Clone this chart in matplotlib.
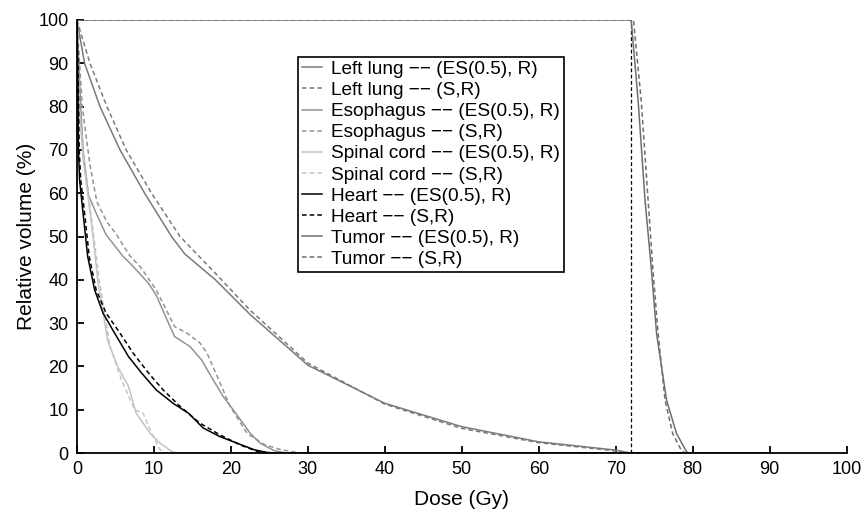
import matplotlib
matplotlib.use('Agg')
import matplotlib.pyplot as plt

plt.rcParams['font.family'] = ['Liberation Sans', 'DejaVu Sans']

# dose-volume histogram data (dose in Gy, relative volume in %)
lung_es_dose = [0, 1.0, 3.0, 5.6, 8.8, 12.3, 14, 18, 22.5, 30, 40, 50, 60, 70, 72, 90]
lung_es_vol = [100, 90, 80, 70, 60, 50, 46, 40, 32, 20.3, 11.5, 6.1, 2.6, 0.7, 0, 0]
lung_s_dose = [0, 1.7, 3.9, 6.4, 9.7, 13.4, 18, 22.5, 30, 40, 50, 60, 70, 72, 90]
lung_s_vol = [100, 90, 80, 70, 60, 50, 41.5, 33, 20.8, 11.3, 5.7, 2.4, 0.5, 0, 0]

eso_es_dose = [0, 0.5, 0.8, 1.5, 2.5, 3.8, 6.0, 7.1, 9.3, 10.3, 11.7, 12.7, 14.7, 16.2,
               17.7, 19.0, 20.8, 22.5, 23.8, 25.6, 27.2, 90]
eso_es_vol = [100, 80, 70, 59.6, 55.4, 50.4, 45.4, 43.5, 39.2, 36.5, 30.8, 26.9, 24.6, 21.5,
              16.9, 13.1, 8.8, 4.6, 2.3, 0.6, 0, 0]
eso_s_dose = [0, 0.7, 1.7, 2.6, 3.9, 5.2, 6.9, 8.2, 10.3, 12.7, 14.3, 16.0, 16.9, 18.6,
              19.9, 22.1, 24.3, 26.5, 29, 90]
eso_s_vol = [100, 80, 66.5, 58, 53.4, 50.3, 45.5, 43.1, 37.7, 29.2, 27.7, 25.4, 23.1, 16.2,
             10.8, 4.6, 2.0, 0.8, 0, 0]

cord_es_dose = [0, 0.3, 0.8, 1.4, 2.1, 2.7, 3.2, 4.0, 5.3, 6.7, 7.7, 9.5, 10.8, 12.3, 13, 90]
cord_es_vol = [100, 80, 68, 60, 50, 40, 34.6, 26, 20, 15.4, 9.2, 4.6, 2.3, 0.4, 0, 0]
cord_s_dose = [0, 0.3, 0.9, 1.5, 2.2, 2.9, 4.3, 5.8, 7.5, 8.6, 9.7, 10.8, 11.5, 90]
cord_s_vol = [100, 80, 68, 60, 50, 40, 24.6, 16.9, 10.0, 9.2, 4.6, 0.8, 0, 0]

heart_es_dose = [0, 0.1, 0.2, 0.35, 0.8, 1.4, 2.3, 3.4, 4.9, 6.7, 8.4, 10.3, 12.5, 14.5,
                 16.4, 18.6, 20.8, 23, 24.7, 26, 90]
heart_es_vol = [100, 90, 70, 63, 55.4, 45.4, 37.7, 32.3, 27.7, 22.3, 18.5, 14.6, 11.5, 9.2,
                5.8, 3.8, 2.3, 0.8, 0.15, 0, 0]
heart_s_dose = [0, 0.15, 0.3, 0.5, 1.0, 1.6, 2.5, 3.8, 5.6, 7.3, 9.3, 11.2, 13.4, 16.0,
                18.6, 21.2, 23.4, 25, 90]
heart_s_vol = [100, 90, 70, 63, 55.4, 45.4, 37.7, 32.3, 27.7, 23.1, 18.5, 14.6, 10.8, 6.9,
               4.2, 1.9, 0.4, 0, 0]

tumor_es_dose = [0, 72.0, 72.9, 73.8, 74.6, 75.3, 76.6, 77.9, 79.2, 79.5, 90]
tumor_es_vol = [100, 100, 81.5, 58.4, 43, 27.6, 12.2, 4.5, 0.3, 0, 0]
tumor_s_dose = [0, 72.3, 73.3, 74.2, 74.8, 75.5, 76.4, 77.4, 78.5, 79, 90]
tumor_s_vol = [100, 100, 81.5, 58.4, 43, 27.6, 12.2, 4.5, 0.7, 0, 0]

rx_dose = 72

organs = ['Left lung', 'Esophagus', 'Spinal cord', 'Heart', 'Tumor']
colors = ['#7a7a7a', '#939393', '#c4c4c4', '#000000', '#6e6e6e']
es_curves = [(lung_es_dose, lung_es_vol), (eso_es_dose, eso_es_vol),
             (cord_es_dose, cord_es_vol), (heart_es_dose, heart_es_vol),
             (tumor_es_dose, tumor_es_vol)]
s_curves = [(lung_s_dose, lung_s_vol), (eso_s_dose, eso_s_vol),
            (cord_s_dose, cord_s_vol), (heart_s_dose, heart_s_vol),
            (tumor_s_dose, tumor_s_vol)]

fig = plt.figure(figsize=(8.64, 5.12), dpi=100)
ax = fig.add_axes([0.089, 0.115, 0.891, 0.846])

# prescription line
ax.axvline(rx_dose, ymin=0, ymax=1, color='k', lw=0.9, dashes=(3, 2))

sep = ' \u2212\u2212 '
for name, c, es, s in zip(organs, colors, es_curves, s_curves):
    ax.plot(es[0], es[1], color=c, lw=1.1, label=name + sep + '(ES(0.5), R)')
    ax.plot(s[0], s[1], color=c, lw=1.1, dashes=(3, 2), label=name + sep + '(S,R)')

ax.set_xlim(0, 100)
ax.set_ylim(0, 100)
ax.set_xticks(range(0, 101, 10))
ax.set_yticks(range(0, 101, 10))
ax.spines['top'].set_visible(False)
ax.spines['right'].set_visible(False)
for sp in ['left', 'bottom']:
    ax.spines[sp].set_linewidth(1.3)
ax.tick_params(direction='in', length=5, width=1.3, labelsize=13, pad=6)
ax.set_xlabel('Dose (Gy)', fontsize=15, labelpad=8)
ax.set_ylabel('Relative volume (%)', fontsize=15, labelpad=2)

leg = ax.legend(loc='upper left', bbox_to_anchor=(0.287, 0.915), fontsize=13.7,
                frameon=True, fancybox=False, framealpha=1, edgecolor='k',
                handlelength=1.05, handletextpad=0.5, labelspacing=0.2,
                borderpad=0.2, borderaxespad=0)
leg.get_frame().set_linewidth(1.2)

fig.savefig('out.png', dpi=100)
